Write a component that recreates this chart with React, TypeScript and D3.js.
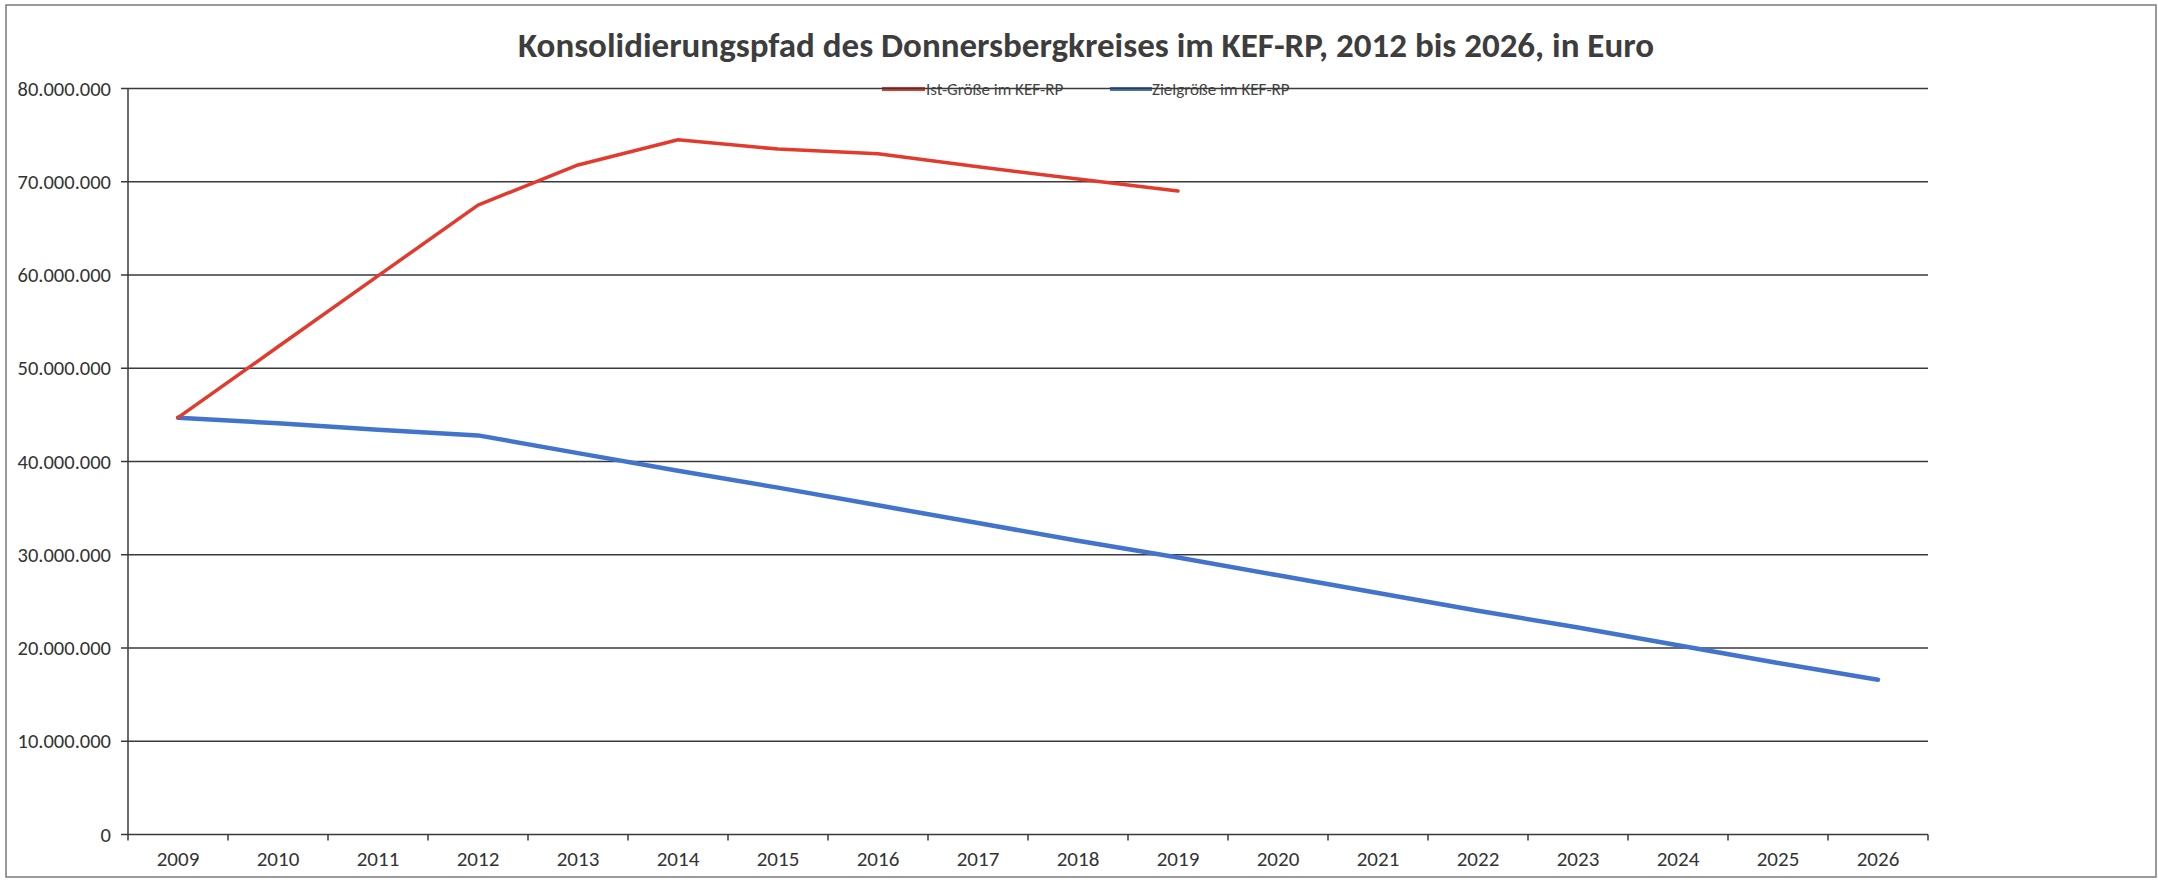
import React from "react";
import * as d3 from "d3";

const years = [
  "2009", "2010", "2011", "2012", "2013", "2014", "2015", "2016", "2017",
  "2018", "2019", "2020", "2021", "2022", "2023", "2024", "2025", "2026",
];
const istYears = ["2009", "2010", "2011", "2012", "2013", "2014", "2015", "2016", "2017", "2018", "2019"];
const istValues = [44.7e6, 52.3e6, 59.9e6, 67.5e6, 71.8e6, 74.5e6, 73.5e6, 73.0e6, 71.6e6, 70.3e6, 69.0e6];
const zielYears = years;
const zielValues = [
  44.7e6, 44.1e6, 43.4e6, 42.8e6, 40.9e6, 39.0e6, 37.2e6, 35.3e6, 33.4e6,
  31.5e6, 29.7e6, 27.8e6, 25.9e6, 24.0e6, 22.2e6, 20.3e6, 18.4e6, 16.6e6,
];
const yTicks = [0, 10e6, 20e6, 30e6, 40e6, 50e6, 60e6, 70e6, 80e6];
const seriesNames = ["Ist-Größe im KEF-RP", "Zielgröße im KEF-RP"];
const title = "Konsolidierungspfad des Donnersbergkreises im KEF-RP, 2012 bis 2026, in Euro";

const W = 2158;
const H = 882;
const FONT = "Carlito, Calibri, Lato, 'Open Sans', sans-serif";

export default function App() {
  const left = 128;
  const right = 1928;
  const top = 88.5;
  const bottom = 834.5;

  const x = d3.scaleBand<string>().domain(years).range([left, right]).padding(0);
  const y = d3.scaleLinear().domain([0, 80e6]).range([bottom, top]);
  const cx = (yr: string) => (x(yr) as number) + x.bandwidth() / 2;

  const line = d3
    .line<[string, number]>()
    .x((d) => cx(d[0]))
    .y((d) => y(d[1]));

  const istData: [string, number][] = istYears.map((yr, i) => [yr, istValues[i]]);
  const zielData: [string, number][] = zielYears.map((yr, i) => [yr, zielValues[i]]);

  const fmt = (v: number) =>
    v === 0 ? "0" : d3.format(",")(v).replace(/,/g, ".");

  const boundaries = d3.range(years.length + 1).map((i) => left + i * x.bandwidth());

  const gridColor = "#3a3a3a";
  const textColor = "#333333";

  return (
    <svg
      width={W}
      height={H}
      style={{ position: "absolute", left: 0, top: 0, background: "#ffffff" }}
    >
      <rect x={0} y={0} width={W} height={H} fill="#ffffff" />
      {/* outer frame */}
      <rect x={6} y={5} width={2150} height={872} fill="none" stroke="#7a7a7a" strokeWidth={1.5} />

      {/* title */}
      <text
        x={1086}
        y={45}
        textAnchor="middle"
        dominantBaseline="central"
        fontFamily={FONT}
        fontWeight="bold"
        fontSize={35}
        fill="#3d3d3d"
      >
        {title}
      </text>

      {/* legend */}
      <g fontFamily={FONT} fontSize={17} fill="#444">
        <line x1={882} x2={925} y1={89} y2={89} stroke="#E23B2E" strokeWidth={4} />
        <text x={926} y={89} dominantBaseline="central">{seriesNames[0]}</text>
        <line x1={1110} x2={1152} y1={89} y2={89} stroke="#4374CC" strokeWidth={4} />
        <text x={1152} y={89} dominantBaseline="central">{seriesNames[1]}</text>
      </g>

      {/* gridlines */}
      {yTicks.map((t) => (
        <line
          key={t}
          x1={left - 7}
          x2={right}
          y1={y(t)}
          y2={y(t)}
          stroke={gridColor}
          strokeWidth={1.5}
        />
      ))}

      {/* y axis */}
      <line x1={left} x2={left} y1={top} y2={bottom} stroke={gridColor} strokeWidth={1.5} />
      {yTicks.map((t) => (
        <text
          key={"l" + t}
          x={111}
          y={y(t)}
          textAnchor="end"
          dominantBaseline="central"
          fontFamily={FONT}
          fontSize={20.5}
          fill={textColor}
        >
          {fmt(t)}
        </text>
      ))}

      {/* x axis ticks */}
      {boundaries.map((b, i) => (
        <line key={"t" + i} x1={b} x2={b} y1={bottom} y2={bottom + 6} stroke={gridColor} strokeWidth={1.5} />
      ))}
      {years.map((yr) => (
        <text
          key={"x" + yr}
          x={cx(yr)}
          y={859}
          textAnchor="middle"
          dominantBaseline="central"
          fontFamily={FONT}
          fontSize={21}
          fill={textColor}
        >
          {yr}
        </text>
      ))}

      {/* series */}
      <path d={line(zielData) || ""} fill="none" stroke="#4374CC" strokeWidth={4.5} strokeLinejoin="round" strokeLinecap="round" />
      <path d={line(istData) || ""} fill="none" stroke="#E23B2E" strokeWidth={3.5} strokeLinejoin="round" strokeLinecap="round" />
    </svg>
  );
}
